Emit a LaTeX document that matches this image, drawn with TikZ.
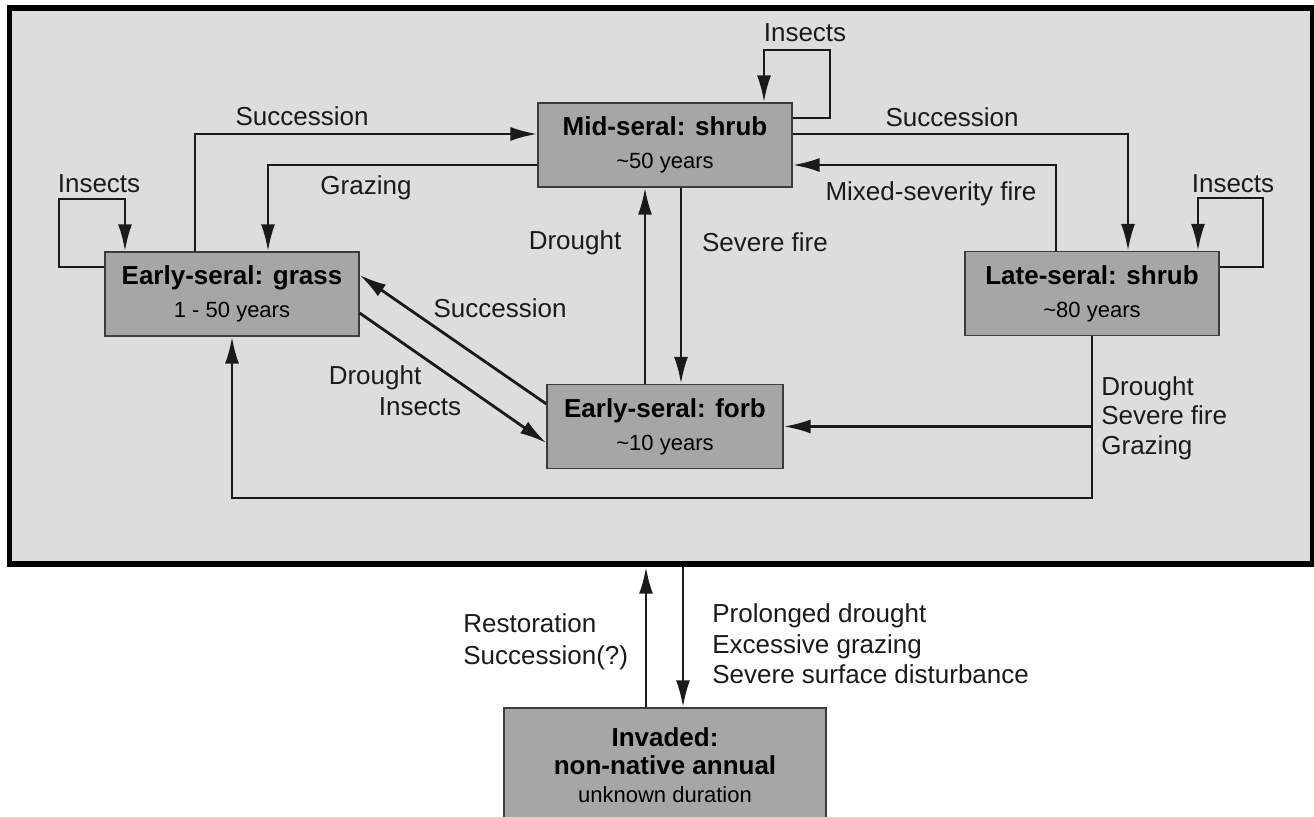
\documentclass[tikz,border=0pt]{standalone}
\usepackage{fontspec}
\setmainfont{Liberation Sans}
\usepackage{tikz}
\usetikzlibrary{positioning,calc,arrows.meta}
\definecolor{panel}{HTML}{DDDDDD}
\definecolor{boxgray}{HTML}{A6A6A6}
\definecolor{ink}{HTML}{1A1A1A}
\newcommand{\durtxt}{\mdseries\fontsize{11}{16.5}\selectfont}

\begin{document}
\begin{tikzpicture}[x=0.5pt, y=-0.5pt,
frame/.style={rectangle, draw=black, fill=panel, line width=2.75pt, minimum width=651.75pt, minimum height=278pt, inner sep=0pt},
seral/.style={rectangle, draw=ink!85, fill=boxgray, line width=0.6pt, minimum width=127pt, minimum height=42pt, align=center, inner sep=0pt, font=\fontsize{13}{16.5}\selectfont\bfseries},
trans/.style={draw=ink, line width=1.4pt, -{Latex[length=13.5pt, width=7pt]}},
cause/.style={inner sep=0pt, text=ink, font=\fontsize{13}{15}\selectfont},
]
\useasboundingbox (0,0) rectangle (1314,817);

\node[frame] (frame) at (661,286) {};

\node[seral] (grass) at (232,294) {Early-seral: grass\\{\durtxt 1 - 50 years}};
\node[seral] (mid) at (665,145) {Mid-seral: shrub\\{\durtxt \textasciitilde50 years}};
\node[seral] (late) at (1092,293.5) {Late-seral: shrub\\{\durtxt \textasciitilde80 years}};
\node[seral, minimum width=118pt] (forb) at (665,426.5) {Early-seral: forb\\{\durtxt \textasciitilde10 years}};
\node[seral, minimum width=161pt, minimum height=57pt, font=\fontsize{13}{14}\selectfont\bfseries] (invaded) at (665,765) {Invaded:\\non-native annual\\{\durtxt unknown duration}};

\node[cause] (insgrass) at (99,184) {Insects};
\node[cause] (sucup) at (302,116) {Succession};
\node[cause] (graze) at (366,188) {Grazing};
\node[cause] (insmid) at (805,33) {Insects};
\node[cause] (sucright) at (952,117) {Succession};
\node[cause] (mixed) at (931,194) {Mixed-severity fire};
\node[cause] (inslate) at (1233,184) {Insects};
\node[cause] (drup) at (575,243) {Drought};
\node[cause] (severe) at (765,242) {Severe fire};
\node[cause] (sucback) at (500,308) {Succession};
\node[cause] (drdown) at (375,378) {Drought};
\node[cause] (insdown) at (420,407) {Insects};
\node[cause, align=left, anchor=west, font=\fontsize{13}{14.75}\selectfont] (latecause) at (1101,418) {Drought\\Severe fire\\Grazing};
\node[cause, align=left, anchor=west, font=\fontsize{13}{16}\selectfont] (restore) at (463,642) {Restoration\\Succession(?)};
\node[cause, align=left, anchor=west, font=\fontsize{13}{15.25}\selectfont] (invade) at (712,644) {Prolonged drought\\Excessive grazing\\Severe surface disturbance};

\draw[trans] ([yshift=13.5pt]grass.west) -| (59,199) -| ([xshift=-53.5pt]grass.north);
\draw[trans] ([xshift=-18.5pt]grass.north) |- ([yshift=5.5pt]mid.west);
\draw[trans] ([yshift=-10pt]mid.west) -| ([xshift=18pt]grass.north);
\draw[trans] ([yshift=13.5pt]mid.east) -| (830,50) -| ([xshift=49.5pt]mid.north);
\draw[trans] ([yshift=5.5pt]mid.east) -| ([xshift=18pt]late.north);
\draw[trans] ([xshift=-18pt]late.north) |- ([yshift=-10pt]mid.east);
\draw[trans] ([yshift=13.25pt]late.east) -| (1263,198) -| ([xshift=53pt]late.north);
\draw[trans] ([xshift=-10pt]forb.north) -- ([xshift=-10pt]mid.south);
\draw[trans] ([xshift=8pt]mid.south) -- ([xshift=8pt]forb.north);
\draw[trans] ([yshift=11.25pt]forb.west) -- ([yshift=9.5pt]grass.east);
\draw[trans] ([yshift=-9.5pt]grass.east) -- ([yshift=-8.25pt]forb.west);
\draw[trans] (late.south) -- ++(0,162) -| (grass.south);
\draw[trans] (late.south |- forb.east) -- (forb.east);

\coordinate (back) at ([xshift=-9.5pt]invaded.north);
\coordinate (away) at ([xshift=9pt]invaded.north);
\draw[trans] (back) -- (back |- frame.south);
\draw[trans] (away |- frame.south) -- (away);
\end{tikzpicture}
\end{document}
